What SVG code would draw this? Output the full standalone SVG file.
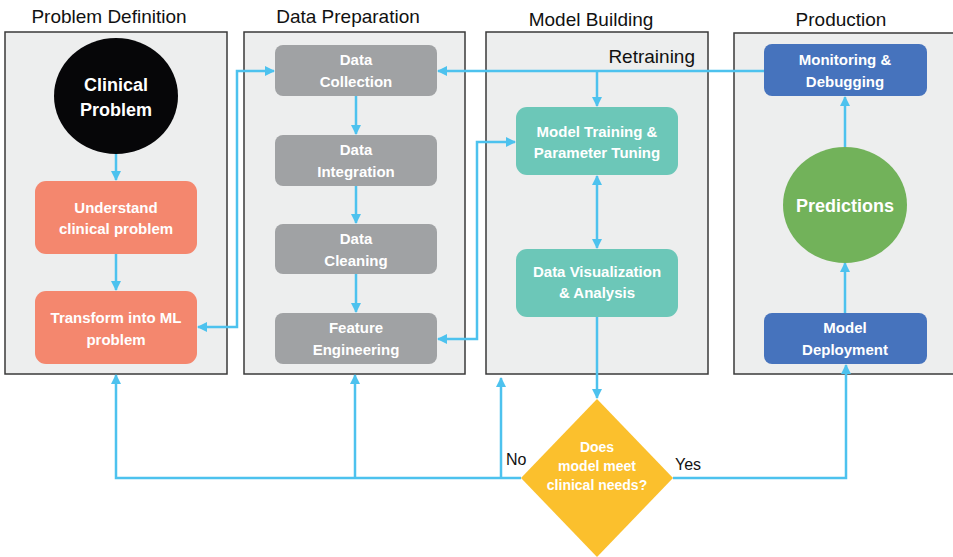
<svg xmlns="http://www.w3.org/2000/svg" width="953" height="557" viewBox="0 0 953 557">
<defs>
<style>
.title{font-family:"Liberation Sans",Arial,sans-serif;font-size:19px;fill:#111;text-anchor:middle}
.panel{fill:#EDEEEE;stroke:#3a3a3a;stroke-width:1.5}
.lbl{font-family:"Liberation Sans",Arial,sans-serif;font-weight:bold;font-size:15px;fill:#fff;text-anchor:middle}
.big{font-family:"Liberation Sans",Arial,sans-serif;font-weight:bold;font-size:18px;fill:#fff;text-anchor:middle}
.dlbl{font-family:"Liberation Sans",Arial,sans-serif;font-weight:bold;font-size:14px;fill:#fff;text-anchor:middle}
.side{font-family:"Liberation Sans",Arial,sans-serif;font-size:16px;fill:#111}
.salmon{fill:#F4876E}
.gray{fill:#A0A2A4}
.teal{fill:#6CC7B8}
.blue{fill:#4673BD}
.conn{fill:none;stroke:#4DC2EE;stroke-width:2.5}
</style>
<marker id="ah" viewBox="0 0 10 10" refX="9" refY="5" markerWidth="4" markerHeight="4" markerUnits="strokeWidth" orient="auto-start-reverse">
<path d="M0,0 L10,5 L0,10 z" fill="#4DC2EE"/>
</marker>
</defs>

<g id="panels">
<text class="title" x="109" y="23">Problem Definition</text>
<rect class="panel" x="5" y="32" width="222" height="342"/>
<text class="title" x="348" y="23">Data Preparation</text>
<rect class="panel" x="244" y="32" width="221" height="342"/>
<text class="title" x="591" y="26">Model Building</text>
<rect class="panel" x="486" y="32" width="222" height="342"/>
<text class="title" x="841" y="26">Production</text>
<rect class="panel" x="734" y="33" width="230" height="341"/>
<text class="title" x="695" y="63" style="text-anchor:end">Retraining</text>
</g>

<g id="connectors">
<line class="conn" x1="116" y1="154" x2="116" y2="180" marker-end="url(#ah)"/>
<line class="conn" x1="116" y1="254" x2="116" y2="290" marker-end="url(#ah)"/>
<line class="conn" x1="356" y1="96" x2="356" y2="134" marker-end="url(#ah)"/>
<line class="conn" x1="356" y1="186" x2="356" y2="223" marker-end="url(#ah)"/>
<line class="conn" x1="356" y1="274" x2="356" y2="312" marker-end="url(#ah)"/>
<polyline class="conn" points="198,327 237,327 237,71 274,71" marker-start="url(#ah)" marker-end="url(#ah)"/>
<line class="conn" x1="764" y1="71" x2="438" y2="71" marker-end="url(#ah)"/>
<line class="conn" x1="597" y1="71" x2="597" y2="106" marker-end="url(#ah)"/>
<polyline class="conn" points="438,339 477,339 477,142 515,142" marker-start="url(#ah)" marker-end="url(#ah)"/>
<line class="conn" x1="597" y1="176" x2="597" y2="248" marker-start="url(#ah)" marker-end="url(#ah)"/>
<line class="conn" x1="597" y1="317" x2="597" y2="398" marker-end="url(#ah)"/>
<polyline class="conn" points="521,478 116,478 116,375" marker-end="url(#ah)"/>
<line class="conn" x1="355" y1="478" x2="355" y2="375" marker-end="url(#ah)"/>
<line class="conn" x1="501" y1="478" x2="501" y2="378" marker-end="url(#ah)"/>
<polyline class="conn" points="673,478 846,478 846,365" marker-end="url(#ah)"/>
<line class="conn" x1="845" y1="313" x2="845" y2="263" marker-end="url(#ah)"/>
<line class="conn" x1="845" y1="147" x2="845" y2="97" marker-end="url(#ah)"/>
</g>

<g id="clinical-problem">
<ellipse cx="116" cy="96" rx="62" ry="58" fill="#060608"/>
<text class="big" x="116" y="91">Clinical</text>
<text class="big" x="116" y="116">Problem</text>
</g>
<g id="understand">
<rect class="salmon" x="35" y="181" width="162" height="73" rx="11"/>
<text class="lbl" x="116" y="213">Understand</text>
<text class="lbl" x="116" y="234">clinical problem</text>
</g>
<g id="transform">
<rect class="salmon" x="35" y="291" width="162" height="73" rx="11"/>
<text class="lbl" x="116" y="323">Transform into ML</text>
<text class="lbl" x="116" y="345">problem</text>
</g>

<g id="data-collection">
<rect class="gray" x="275" y="45" width="162" height="51" rx="8"/>
<text class="lbl" x="356" y="65">Data</text>
<text class="lbl" x="356" y="87">Collection</text>
</g>
<g id="data-integration">
<rect class="gray" x="275" y="135" width="162" height="51" rx="8"/>
<text class="lbl" x="356" y="155">Data</text>
<text class="lbl" x="356" y="177">Integration</text>
</g>
<g id="data-cleaning">
<rect class="gray" x="275" y="224" width="162" height="50" rx="8"/>
<text class="lbl" x="356" y="244">Data</text>
<text class="lbl" x="356" y="266">Cleaning</text>
</g>
<g id="feature-engineering">
<rect class="gray" x="275" y="313" width="162" height="51" rx="8"/>
<text class="lbl" x="356" y="333">Feature</text>
<text class="lbl" x="356" y="355">Engineering</text>
</g>

<g id="model-training">
<rect class="teal" x="516" y="107" width="162" height="68" rx="11"/>
<text class="lbl" x="597" y="137">Model Training &amp;</text>
<text class="lbl" x="597" y="158">Parameter Tuning</text>
</g>
<g id="data-visualization">
<rect class="teal" x="516" y="249" width="162" height="68" rx="11"/>
<text class="lbl" x="597" y="277">Data Visualization</text>
<text class="lbl" x="597" y="298">&amp; Analysis</text>
</g>

<g id="monitoring">
<rect class="blue" x="764" y="44" width="163" height="52" rx="8"/>
<text class="lbl" x="845" y="65">Monitoring &amp;</text>
<text class="lbl" x="845" y="87">Debugging</text>
</g>
<g id="predictions">
<ellipse cx="845" cy="205" rx="62" ry="58" fill="#72B25A"/>
<text class="big" x="845" y="212">Predictions</text>
</g>
<g id="model-deployment">
<rect class="blue" x="764" y="313" width="163" height="51" rx="8"/>
<text class="lbl" x="845" y="333">Model</text>
<text class="lbl" x="845" y="355">Deployment</text>
</g>

<g id="decision">
<polygon points="597,399 673,478 597,557 521,478" fill="#FBC02D"/>
<text class="dlbl" x="597" y="452">Does</text>
<text class="dlbl" x="597" y="471">model meet</text>
<text class="dlbl" x="597" y="490">clinical needs?</text>
</g>
<text class="side" x="506" y="465">No</text>
<text class="side" x="675" y="470">Yes</text>
</svg>
